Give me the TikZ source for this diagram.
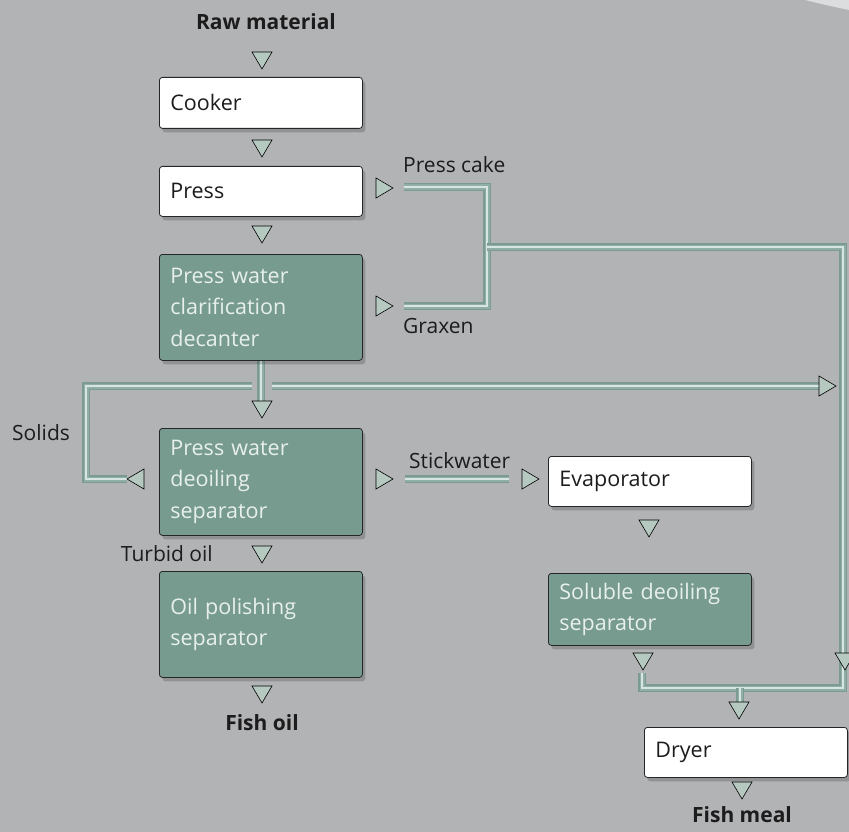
\documentclass[tikz,border=0pt]{standalone}
\usepackage{fontspec}
\setmainfont{Open Sans}
\usetikzlibrary{shadows}
\definecolor{bg}{HTML}{B2B3B5}
\definecolor{pipeD}{HTML}{7B9B92}
\definecolor{pipeM}{HTML}{91AEA6}
\definecolor{pipeL}{HTML}{D6E5E0}
\definecolor{trifill}{HTML}{B6C9C1}
\definecolor{tealbox}{HTML}{789B8F}
\definecolor{tealtext}{HTML}{E8F0EC}
\definecolor{ink}{HTML}{1C1C1C}
\definecolor{curl}{HTML}{DCDDDF}
\tikzset{
  boxbase/.style={draw=black!85, line width=0.8pt, rounded corners=3pt, anchor=north west,
    minimum width=203pt, text width=181pt, inner xsep=11pt, inner ysep=0pt, align=left,
    font=\fontsize{21.5}{31.5}\selectfont,
    drop shadow={shadow xshift=3pt, shadow yshift=-4pt, opacity=0.18, fill=black}},
  wbox/.style={boxbase, fill=white, text=ink},
  tbox/.style={boxbase, fill=tealbox, text=tealtext},
  pipe/.style={line width=8pt, draw=pipeD,
    postaction={draw=pipeM, line width=5pt},
    postaction={draw=pipeL, line width=1.5pt}},
  tri/.style={fill=trifill, draw=black, line width=0.6pt, line join=miter},
  lbl/.style={text=ink, inner sep=0pt, font=\fontsize{21}{25}\selectfont},
  blbl/.style={text=ink, inner sep=0pt, font=\fontsize{21}{25}\selectfont\bfseries},
}
\newcommand\tridown[2]{\draw[tri] (#1-10,#2) -- (#1+10,#2) -- (#1,#2+17) -- cycle;}
\newcommand\triright[2]{\draw[tri] (#1,#2-10) -- (#1,#2+10) -- (#1+17,#2) -- cycle;}
\newcommand\trileft[2]{\draw[tri] (#1+17,#2-10) -- (#1+17,#2+10) -- (#1,#2) -- cycle;}
\begin{document}
\begin{tikzpicture}[x=1pt,y=-1pt]
\fill[bg] (0,0) rectangle (849,832);
\useasboundingbox (0,0) rectangle (849,832);
\fill[curl] (805,0) -- (849,0) -- (849,10) .. controls (830,6) .. (805,0) -- cycle;

% pipes
\coordinate (pcS) at (404,187);
\coordinate (pcJ) at (487,187);
\coordinate (grJ) at (487,306);
\coordinate (grS) at (404,306);
\coordinate (mJ) at (487,247);
\coordinate (rTop) at (843,247);
\coordinate (rBot) at (843,688);
\coordinate (lBot) at (642,688);
\coordinate (lTop) at (642,673);
\coordinate (mBot) at (740,688);
\coordinate (mEnd) at (740,702);
\draw[pipe] (pcS) -- (pcJ) -- (grJ) -- (grS);
\draw[pipe] (mJ) -- (rTop) -- (rBot) -- (lBot) -- (lTop);
\draw[pipe] (mBot) -- (mEnd);

\coordinate (solE) at (127,479);
\coordinate (solC1) at (86,479);
\coordinate (solC2) at (86,386);
\coordinate (solG) at (252,386);
\coordinate (hG) at (272,386);
\coordinate (hE) at (819,386);
\coordinate (dS) at (261,360);
\coordinate (dE) at (261,401);
\draw[pipe] (solE) -- (solC1) -- (solC2) -- (solG);
\draw[pipe] (hG) -- (hE);
\draw[pipe] (dS) -- (dE);

\coordinate (swS) at (405,479);
\coordinate (swE) at (509,479);
\draw[pipe] (swS) -- (swE);

% boxes
\node[wbox, minimum height=51pt] (cooker) at (159,77) {Cooker};
\node[wbox, minimum height=50pt] (press) at (159,166) {Press};
\node[tbox, minimum height=106pt] (decanter) at (159,254) {Press water\\clarification\\decanter};
\node[tbox, minimum height=107pt] (deoil) at (159,428) {Press water\\deoiling\\separator};
\node[tbox, minimum height=106pt] (polish) at (159,571) {Oil polishing\\separator};
\node[wbox, minimum height=50pt] (evap) at (548,456) {Evaporator};
\node[tbox, minimum height=72pt] (soluble) at (548,573) {Soluble deoiling\\separator};
\node[wbox, minimum height=50pt] (dryer) at (644,727) {Dryer};

% triangles
\tridown{262}{52}
\tridown{262}{140}
\tridown{262}{226}
\tridown{262}{401}
\tridown{262}{546}
\tridown{262}{686}
\tridown{649}{520}
\tridown{643}{653}
\tridown{845}{653}
\tridown{739}{702}
\tridown{742}{782}

\triright{376}{188}
\triright{376}{306}
\triright{376}{479}
\triright{522}{479}
\triright{819}{386}
\trileft{127}{479}

% labels
\node[blbl, anchor=base] (raw) at (266,30) {Raw material};
\node[blbl, anchor=base] (fishoil) at (262,730) {Fish oil};
\node[blbl, anchor=base] (fishmeal) at (742,822) {Fish meal};
\node[lbl, anchor=base west] (presscake) at (403,173) {Press cake};
\node[lbl, anchor=base west] (graxen) at (403,333) {Graxen};
\node[lbl, anchor=base west] (solids) at (12,440) {Solids};
\node[lbl, anchor=base east] (turbid) at (213,561) {Turbid oil};
\node[lbl, anchor=base west] (stick) at (409,468) {Stickwater};
\end{tikzpicture}
\end{document}
